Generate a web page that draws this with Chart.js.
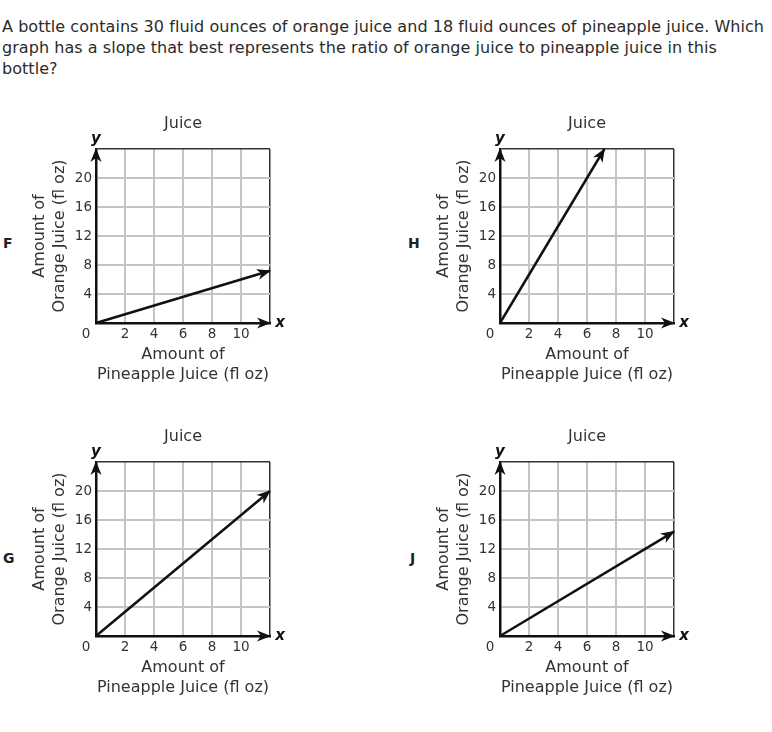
<!DOCTYPE html>
<html lang="en">
<head>
<meta charset="UTF-8">
<title>Juice</title>
<script src="https://cdn.jsdelivr.net/npm/chart.js"></script>
<style>
  body { margin: 0; background: #fff; width: 772px; height: 732px; position: relative; overflow: hidden;
         font-family: "DejaVu Sans", Verdana, sans-serif; color: #2b2b2b; }
  .question { position: absolute; left: 2px; top: 16px; font-size: 16px; line-height: 21px; white-space: nowrap; letter-spacing: 0.05px; }
  .tag { position: absolute; font-size: 14px; line-height: 14px; font-weight: bold; color: #222; }
  .box { position: absolute; width: 300px; height: 300px; }
</style>
</head>
<body>
<div class="question">A bottle contains 30 fluid ounces of orange juice and 18 fluid ounces of pineapple juice. Which<br>graph has a slope that best represents the ratio of orange juice to pineapple juice in this<br>bottle?</div>

<div class="tag" style="left:3px;top:236px">F</div>
<div class="tag" style="left:408px;top:236px">H</div>
<div class="tag" style="left:3px;top:551px">G</div>
<div class="tag" style="left:410px;top:551px">J</div>

<div class="box" style="left:0;top:100px"><canvas id="chartF" width="300" height="300"></canvas></div>
<div class="box" style="left:404px;top:100px"><canvas id="chartH" width="300" height="300"></canvas></div>
<div class="box" style="left:0;top:413px"><canvas id="chartG" width="300" height="300"></canvas></div>
<div class="box" style="left:404px;top:413px"><canvas id="chartJ" width="300" height="300"></canvas></div>

<script>
// axis ranges
const xMax = 12, xStep = 2;
const yMax = 24, yStep = 4;

// each graph: amount of pineapple juice (x) -> amount of orange juice (y)
const pineappleF = [0, 12];
const orangeF = [0, 7.2];
const pineappleH = [0, 7.2];
const orangeH = [0, 24];
const pineappleG = [0, 12];
const orangeG = [0, 20];
const pineappleJ = [0, 12];
const orangeJ = [0, 14.4];

const chartTitle = 'Juice';

const FONT = '"DejaVu Sans", Verdana, sans-serif';
Chart.defaults.font.family = FONT;
Chart.defaults.color = '#333';

function arrowHead(ctx, x1, y1, x2, y2) {
    const a = Math.atan2(y2 - y1, x2 - x1);
    ctx.save();
    ctx.translate(x2, y2);
    ctx.rotate(a);
    ctx.beginPath();
    ctx.moveTo(1, 0);
    ctx.lineTo(-13, -5.5);
    ctx.lineTo(-9, 0);
    ctx.lineTo(-13, 5.5);
    ctx.closePath();
    ctx.fillStyle = '#111';
    ctx.fill();
    ctx.restore();
}

// arrows on the axes and the line, plus title and origin / x / y labels
const decor = {
    id: 'decor',
    afterDraw(chart) {
        const { ctx, scales, chartArea } = chart;
        const x0 = scales.x.getPixelForValue(0), y0 = scales.y.getPixelForValue(0);
        const xEnd = scales.x.getPixelForValue(scales.x.max);
        const yEnd = scales.y.getPixelForValue(scales.y.max);

        arrowHead(ctx, x0, y0, x0, yEnd);
        arrowHead(ctx, x0, y0, xEnd, y0);

        const pts = chart.getDatasetMeta(0).data;
        const p = pts[pts.length - 2], q = pts[pts.length - 1];
        arrowHead(ctx, p.x, p.y, q.x, q.y);

        ctx.save();
        ctx.fillStyle = '#333';
        ctx.textAlign = 'center';
        ctx.textBaseline = 'middle';
        ctx.font = '16px ' + FONT;
        ctx.fillText(chartTitle, (chartArea.left + chartArea.right) / 2, chartArea.top - 25);
        ctx.font = '13.5px ' + FONT;
        ctx.fillText('0', x0 - 10, y0 + 3 + 8.1);
        ctx.fillStyle = '#111';
        ctx.font = 'italic bold 15px ' + FONT;
        ctx.fillText('y', x0, yEnd - 10);
        ctx.fillText('x', xEnd + 10, y0);
        ctx.restore();
    }
};

function gridColor(max) {
    return c => (c.tick && c.tick.value === max) ? '#333' : '#c4c4c4';
}
function gridWidth(max) {
    return c => (c.tick && c.tick.value === max) ? 1.5 : 2;
}

function makeChart(id, xs, ys) {
    new Chart(document.getElementById(id), {
        type: 'scatter',
        data: {
            datasets: [{
                data: xs.map((x, i) => ({ x: x, y: ys[i] })),
                showLine: true,
                borderColor: '#111',
                borderWidth: 2.5,
                pointRadius: 0,
                clip: false
            }]
        },
        options: {
            responsive: false,
            animation: false,
            events: [],
            layout: { padding: { left: 26, right: 30, top: 49, bottom: 7 } },
            plugins: {
                legend: { display: false },
                tooltip: { enabled: false },
                title: { display: false }
            },
            scales: {
                x: {
                    type: 'linear',
                    min: 0,
                    max: xMax,
                    afterFit: s => { s.height = 70; },
                    ticks: {
                        stepSize: xStep,
                        padding: 3,
                        maxRotation: 0,
                        font: { size: 13.5 },
                        callback: v => (v === 0 || v === xMax) ? '' : v
                    },
                    grid: { color: gridColor(xMax), lineWidth: gridWidth(xMax), drawTicks: false },
                    border: { display: true, color: '#111', width: 2.5 },
                    title: {
                        display: true,
                        text: ['Amount of', 'Pineapple Juice (fl oz)'],
                        font: { size: 16, lineHeight: 1.25 },
                        padding: { top: 0, bottom: 8 }
                    }
                },
                y: {
                    type: 'linear',
                    min: 0,
                    max: yMax,
                    afterFit: s => { s.width = 70; },
                    ticks: {
                        stepSize: yStep,
                        padding: 4,
                        font: { size: 13.5 },
                        callback: v => (v === 0 || v === yMax) ? '' : v
                    },
                    grid: { color: gridColor(yMax), lineWidth: gridWidth(yMax), drawTicks: false },
                    border: { display: true, color: '#111', width: 2.5 },
                    title: {
                        display: true,
                        text: ['Amount of', 'Orange Juice (fl oz)'],
                        font: { size: 16, lineHeight: 1.25 },
                        padding: { top: 4, bottom: 0 }
                    }
                }
            }
        },
        plugins: [decor]
    });
}

makeChart('chartF', pineappleF, orangeF);
makeChart('chartH', pineappleH, orangeH);
makeChart('chartG', pineappleG, orangeG);
makeChart('chartJ', pineappleJ, orangeJ);
</script>
</body>
</html>
